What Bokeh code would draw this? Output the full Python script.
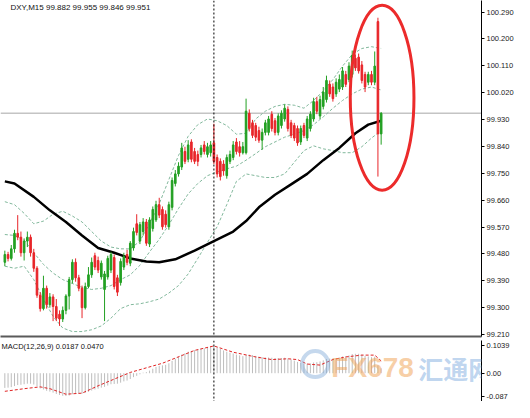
from bokeh.plotting import figure
from bokeh.layouts import column
from bokeh.models import Span, Label, FixedTicker, Range1d, ColumnDataSource, PrintfTickFormatter
from bokeh.embed import file_html
from bokeh.resources import INLINE

symbol = "DXY,M15"
last_ohlc = ["99.882", "99.955", "99.846", "99.951"]
bid = 99.951

opens = [99.452, 99.478, 99.465, 99.497, 99.549, 99.536, 99.484, 99.523, 99.536, 99.484,
         99.432, 99.342, 99.297, 99.365, 99.310, 99.336, 99.304, 99.278, 99.262, 99.291,
         99.339, 99.394, 99.452, 99.400, 99.365, 99.300, 99.371, 99.410, 99.474, 99.458,
         99.403, 99.361, 99.403, 99.426, 99.468, 99.400, 99.384, 99.436, 99.478, 99.449,
         99.500, 99.581, 99.523, 99.555, 99.587, 99.513, 99.565, 99.594, 99.645, 99.629,
         99.613, 99.571, 99.636, 99.716, 99.748, 99.771, 99.823, 99.797, 99.855, 99.823,
         99.813, 99.813, 99.845, 99.813, 99.819, 99.852, 99.803, 99.790, 99.781, 99.742,
         99.790, 99.803, 99.855, 99.839, 99.819, 99.819, 99.951, 99.919, 99.910, 99.893,
         99.861, 99.887, 99.887, 99.948, 99.926, 99.887, 99.910, 99.932, 99.964, 99.919,
         99.910, 99.900, 99.855, 99.910, 99.868, 99.900, 99.932, 99.990, 99.942, 99.974,
         99.997, 100.048, 100.039, 100.016, 100.032, 100.039, 100.081, 100.064, 100.081, 100.135,
         100.139, 100.113, 100.081, 100.055, 100.081, 100.055, 100.258, 99.882]
closes = [99.478, 99.465, 99.497, 99.549, 99.536, 99.484, 99.523, 99.536, 99.484, 99.432,
          99.342, 99.297, 99.365, 99.310, 99.336, 99.304, 99.265, 99.262, 99.291, 99.339,
          99.394, 99.452, 99.400, 99.365, 99.300, 99.371, 99.410, 99.452, 99.436, 99.426,
          99.449, 99.413, 99.465, 99.478, 99.371, 99.352, 99.455, 99.471, 99.452, 99.516,
          99.555, 99.552, 99.578, 99.587, 99.516, 99.594, 99.629, 99.645, 99.610, 99.571,
          99.578, 99.645, 99.726, 99.748, 99.774, 99.835, 99.790, 99.845, 99.797, 99.790,
          99.790, 99.835, 99.823, 99.839, 99.845, 99.790, 99.748, 99.739, 99.758, 99.803,
          99.813, 99.845, 99.823, 99.819, 99.839, 99.958, 99.900, 99.877, 99.871, 99.861,
          99.887, 99.919, 99.932, 99.900, 99.887, 99.942, 99.951, 99.968, 99.900, 99.877,
          99.868, 99.852, 99.900, 99.877, 99.932, 99.948, 99.990, 99.958, 99.997, 100.022,
          100.061, 100.016, 100.000, 100.055, 100.064, 100.093, 100.048, 100.109, 100.145, 100.103,
          100.093, 100.061, 100.039, 100.081, 100.055, 100.109, 99.882, 99.951]
highs = [99.491, 99.487, 99.510, 99.561, 99.610, 99.555, 99.532, 99.555, 99.545, 99.497,
         99.439, 99.352, 99.407, 99.374, 99.349, 99.345, 99.329, 99.291, 99.304, 99.345,
         99.403, 99.462, 99.465, 99.410, 99.374, 99.384, 99.436, 99.468, 99.484, 99.471,
         99.458, 99.423, 99.474, 99.487, 99.478, 99.410, 99.465, 99.484, 99.494, 99.523,
         99.568, 99.613, 99.587, 99.600, 99.597, 99.603, 99.639, 99.658, 99.668, 99.639,
         99.626, 99.655, 99.736, 99.761, 99.787, 99.852, 99.839, 99.861, 99.864, 99.835,
         99.826, 99.845, 99.858, 99.852, 99.858, 99.916, 99.813, 99.800, 99.794, 99.813,
         99.826, 99.858, 99.868, 99.858, 99.855, 100.000, 99.964, 99.929, 99.919, 99.906,
         99.900, 99.929, 99.942, 99.958, 99.935, 99.951, 99.961, 99.981, 99.974, 99.929,
         99.919, 99.910, 99.910, 99.919, 99.942, 99.958, 100.003, 100.006, 100.010, 100.039,
         100.077, 100.061, 100.051, 100.068, 100.081, 100.106, 100.093, 100.122, 100.161, 100.148,
         100.151, 100.126, 100.090, 100.090, 100.093, 100.158, 100.271, 99.955]
lows = [99.439, 99.455, 99.458, 99.484, 99.526, 99.471, 99.458, 99.503, 99.471, 99.420,
        99.333, 99.287, 99.291, 99.297, 99.300, 99.255, 99.255, 99.239, 99.252, 99.278,
        99.294, 99.381, 99.387, 99.355, 99.265, 99.294, 99.365, 99.400, 99.426, 99.416,
        99.394, 99.255, 99.394, 99.416, 99.361, 99.339, 99.374, 99.426, 99.442, 99.439,
        99.491, 99.542, 99.513, 99.542, 99.507, 99.503, 99.555, 99.587, 99.600, 99.561,
        99.568, 99.561, 99.626, 99.706, 99.739, 99.761, 99.781, 99.787, 99.787, 99.781,
        99.774, 99.803, 99.813, 99.803, 99.806, 99.781, 99.736, 99.726, 99.742, 99.732,
        99.781, 99.794, 99.813, 99.806, 99.813, 99.813, 99.890, 99.868, 99.858, 99.852,
        99.829, 99.877, 99.877, 99.890, 99.877, 99.877, 99.900, 99.923, 99.890, 99.868,
        99.858, 99.842, 99.845, 99.868, 99.858, 99.890, 99.923, 99.948, 99.932, 99.964,
        99.987, 100.006, 99.990, 100.006, 100.022, 100.029, 100.039, 100.055, 100.071, 100.093,
        100.084, 100.051, 100.022, 100.045, 100.045, 100.045, 99.739, 99.846]

ma_idx = [0, 3, 9, 14, 19, 24, 29, 34, 39, 44, 48, 53, 59, 65, 71, 75, 79, 84, 89, 94, 99, 104, 109, 113, 117]
ma_val = [99.723, 99.716, 99.671, 99.626, 99.587, 99.542, 99.500, 99.484, 99.465, 99.455, 99.452, 99.462,
          99.491, 99.523, 99.555, 99.590, 99.636, 99.678, 99.713, 99.748, 99.794, 99.835, 99.884, 99.913, 99.926]

band_idx = [0, 3, 6, 9, 12, 15, 18, 21, 24, 27, 30, 33, 36, 39, 42, 45, 48, 51, 54, 57,
            60, 63, 66, 69, 72, 75, 78, 81, 84, 87, 90, 93, 96, 99, 102, 105, 108, 111, 114, 117]
bb_upper = [99.655, 99.645, 99.616, 99.581, 99.590, 99.613, 99.623, 99.607, 99.587, 99.555,
            99.523, 99.503, 99.497, 99.497, 99.523, 99.581, 99.648, 99.729, 99.810, 99.874,
            99.913, 99.932, 99.926, 99.910, 99.881, 99.884, 99.932, 99.958, 99.974, 99.981,
            99.978, 99.968, 99.994, 100.026, 100.064, 100.109, 100.148, 100.168, 100.174, 100.168]
bb_middle = [99.545, 99.542, 99.526, 99.484, 99.445, 99.416, 99.394, 99.381, 99.368, 99.361,
             99.365, 99.374, 99.394, 99.410, 99.442, 99.487, 99.529, 99.578, 99.632, 99.681,
             99.716, 99.742, 99.755, 99.765, 99.774, 99.794, 99.816, 99.839, 99.855, 99.871,
             99.881, 99.893, 99.913, 99.939, 99.968, 99.994, 100.016, 100.032, 100.039, 100.029]
bb_lower = [99.439, 99.432, 99.439, 99.394, 99.329, 99.271, 99.232, 99.220, 99.220, 99.226,
            99.239, 99.265, 99.297, 99.310, 99.313, 99.320, 99.329, 99.349, 99.374, 99.413,
            99.465, 99.519, 99.571, 99.645, 99.723, 99.748, 99.742, 99.736, 99.736, 99.748,
            99.787, 99.826, 99.842, 99.832, 99.826, 99.819, 99.819, 99.839, 99.868, 99.893]

macd_hist = [-0.056, -0.055, -0.053, -0.049, -0.045, -0.044, -0.042, -0.040, -0.040, -0.043,
             -0.050, -0.058, -0.062, -0.067, -0.070, -0.074, -0.079, -0.083, -0.086, -0.087,
             -0.085, -0.080, -0.078, -0.077, -0.078, -0.075, -0.071, -0.066, -0.062, -0.059,
             -0.055, -0.052, -0.047, -0.042, -0.041, -0.040, -0.036, -0.031, -0.028, -0.022,
             -0.015, -0.010, -0.004, 0.002, 0.004, 0.010, 0.017, 0.024, 0.028, 0.030,
             0.032, 0.038, 0.047, 0.055, 0.062, 0.071, 0.076, 0.082, 0.085, 0.088,
             0.090, 0.093, 0.095, 0.098, 0.101, 0.1039, 0.099, 0.093, 0.087, 0.082,
             0.078, 0.075, 0.071, 0.068, 0.065, 0.070, 0.071, 0.069, 0.066, 0.063,
             0.061, 0.060, 0.060, 0.059, 0.058, 0.058, 0.058, 0.059, 0.056, 0.052,
             0.048, 0.043, 0.040, 0.036, 0.036, 0.037, 0.041, 0.042, 0.045, 0.049,
             0.054, 0.056, 0.056, 0.058, 0.060, 0.064, 0.065, 0.068, 0.073, 0.074,
             0.074, 0.071, 0.066, 0.064, 0.061, 0.063, 0.030, 0.0187]
sig_idx = [0, 6, 11, 14, 19, 24, 29, 39, 49, 59, 65, 71, 78, 83, 88, 91, 94, 98, 102, 106, 111, 115, 117]
sig_val = [-0.069, -0.059, -0.052, -0.059, -0.080, -0.076, -0.048, 0.003, 0.038, 0.087, 0.104, 0.080,
           0.062, 0.052, 0.055, 0.052, 0.035, 0.031, 0.052, 0.062, 0.069, 0.069, 0.047]
macd_title = "MACD(12,26,9) 0.0187 0.0470"

price_ticks = [99.210, 99.300, 99.390, 99.480, 99.570, 99.660, 99.750, 99.840, 99.930,
               100.020, 100.110, 100.200, 100.290]
macd_ticks = [-0.087, 0.0, 0.1039]
macd_tick_labels = ["-0.087", "0.00", "0.1039"]

cursor_bar = 65
highlight_bar = 117.3
highlight_price = 100.003
highlight_w = 19.8
highlight_h = 0.619

FONT = "Liberation Sans"
UP, DOWN = "#23a023", "#e8262a"
X0, X1 = -1.35, 148.2
Y0, Y1 = 99.2035, 100.3287
M0, M1 = -0.1078, 0.1247

idx = list(range(len(closes)))
colors = [UP if c >= o else DOWN for o, c in zip(opens, closes)]
src = ColumnDataSource(dict(x=idx, o=opens, c=closes, h=highs, l=lows,
                            top=[max(o, c) for o, c in zip(opens, closes)],
                            bot=[min(o, c) for o, c in zip(opens, closes)],
                            color=colors))

p = figure(frame_width=481, frame_height=336, output_backend="svg", toolbar_location=None,
           x_range=Range1d(X0, X1), y_range=Range1d(Y0, Y1), y_axis_location="right",
           min_border_left=0, min_border_top=0, min_border_bottom=4, min_border_right=33,
           background_fill_color="white", border_fill_color="white")
p.outline_line_color = None
p.grid.visible = False
p.xaxis.ticker = FixedTicker(ticks=[])
p.xaxis.major_tick_line_color = None
p.xaxis.minor_tick_line_color = None
p.xaxis.major_label_standoff = 0
p.xaxis.axis_line_color = "#5a5a5a"
p.xaxis.axis_line_width = 2
yax = p.yaxis[0]
yax.ticker = FixedTicker(ticks=price_ticks)
yax.formatter = PrintfTickFormatter(format="%.3f")
yax.axis_line_color = "black"
yax.major_tick_out = 3
yax.major_tick_in = 0
yax.minor_tick_line_color = None
yax.major_label_standoff = 2
yax.major_label_text_font = FONT
yax.major_label_text_font_size = "7.5px"
yax.major_label_text_color = "#222222"

p.add_layout(Span(location=bid, dimension="width", line_color="#c4c4c4", line_width=1.5, level="underlay"))
p.add_layout(Span(location=cursor_bar, dimension="height", line_color="black", line_width=1, line_dash="2 2"))

for ys in (bb_upper, bb_middle, bb_lower):
    p.line(band_idx, ys, line_color="#82b89c", line_width=1, line_dash="3 2")
p.line(ma_idx, ma_val, line_color="black", line_width=2.5)

p.segment(x0="x", y0="h", x1="x", y1="l", line_color="color", line_width=1, source=src)
p.vbar(x="x", width=0.5, top="top", bottom="bot", fill_color="color", line_color="color",
       line_width=1, source=src)

p.ellipse(x=[highlight_bar], y=[highlight_price], width=[highlight_w], height=[highlight_h],
          fill_color=None, line_color="#ec2b2b", line_width=3)

p.add_layout(Label(x=X0, x_offset=10, y=100.305, text=symbol + "  " + " ".join(last_ohlc),
                   text_font=FONT, text_font_size="8px", text_baseline="middle", text_color="#111111"))
p.add_layout(Label(x=X1, x_offset=1, y=bid, text=f"{bid:.3f}", text_font=FONT, text_font_size="7.5px",
                   text_baseline="middle", text_color="white", background_fill_color="black"))

m = figure(frame_width=481, frame_height=61, output_backend="svg", toolbar_location=None,
           x_range=p.x_range, y_range=Range1d(M0, M1), y_axis_location="right",
           min_border_left=0, min_border_top=0, min_border_bottom=0, min_border_right=33,
           background_fill_color="white", border_fill_color="white")
m.outline_line_color = None
m.grid.visible = False
m.xaxis.visible = False
max_ = m.yaxis[0]
max_.ticker = FixedTicker(ticks=macd_ticks)
max_.major_label_overrides = {t: s for t, s in zip(macd_ticks, macd_tick_labels)}
max_.axis_line_color = "black"
max_.major_tick_out = 3
max_.major_tick_in = 0
max_.minor_tick_line_color = None
max_.major_label_standoff = 2
max_.major_label_text_font = FONT
max_.major_label_text_font_size = "7.5px"
max_.major_label_text_color = "#222222"

m.segment(x0=idx, y0=[0] * len(idx), x1=idx, y1=macd_hist, line_color="#bdbdbd", line_width=1)
m.line(sig_idx, sig_val, line_color="#e02424", line_width=1, line_dash="3 2")
m.add_layout(Span(location=cursor_bar, dimension="height", line_color="black", line_width=1, line_dash="2 2"))

m.scatter([96.5], [0.035], marker="circle", size=26, fill_color=None, line_color="#7fa8d8",
          line_width=4, line_alpha=0.45)
m.add_layout(Label(x=101.5, y=0.02, text="FX678", text_font=FONT,
                   text_font_size="28px", text_font_style="bold", text_color="#f0a050",
                   text_alpha=0.5, text_baseline="middle"))
m.add_layout(Label(x=128.5, y=0.02, text="汇通网", text_font="Noto Sans CJK SC",
                   text_font_size="25px", text_font_style="bold", text_color="#6fa3dc",
                   text_alpha=0.45, text_baseline="middle"))
m.add_layout(Label(x=X0, x_offset=1, y=0.100, text=macd_title, text_font=FONT,
                   text_font_size="7.5px", text_baseline="middle", text_color="#111111"))

layout = column(p, m, spacing=0)
open("out.html", "w").write(file_html(layout, INLINE))
